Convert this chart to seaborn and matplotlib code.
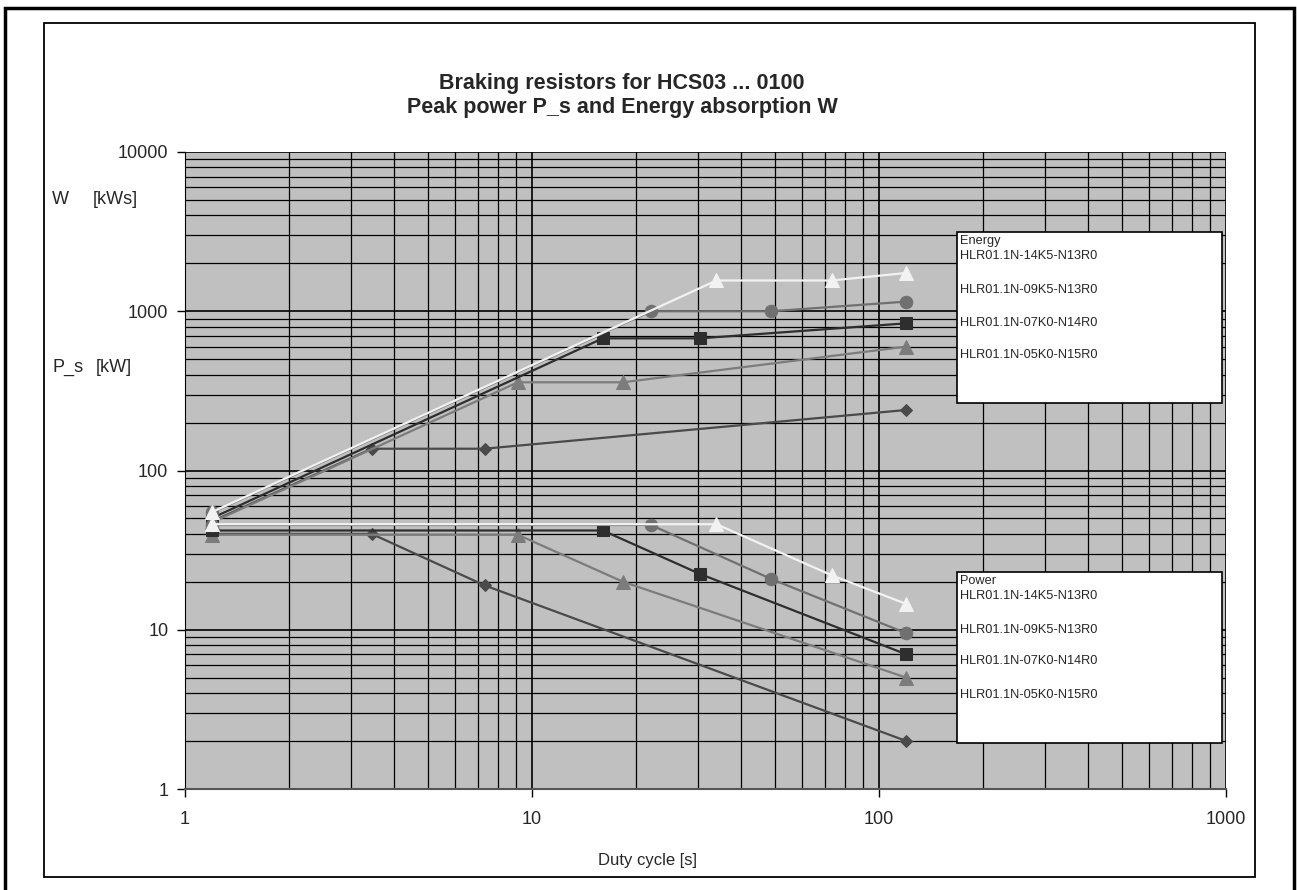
import matplotlib
matplotlib.use("Agg")
import matplotlib.pyplot as plt
import matplotlib.patches as mpatches
import matplotlib.ticker as mticker
import seaborn as sns
import pandas as pd

# ---------------- data ----------------
series_names = ["HLR01.1N-14K5-N13R0", "HLR01.1N-09K5-N13R0",
                "HLR01.1N-07K0-N14R0", "HLR01.1N-05K0-N15R0", "diamond"]
duty_14k5 = [1.2, 34, 73, 120]
duty_09k5 = [1.2, 22, 49, 120]
duty_07k0 = [1.2, 16, 30.5, 120]
duty_05k0 = [1.2, 9.1, 18.3, 120]
duty_dia = [1.2, 3.45, 7.3, 120]

energy_14k5 = [55, 1560, 1560, 1740]
energy_09k5 = [54.6, 1000, 1000, 1150]
energy_07k0 = [50.4, 676, 676, 840]
energy_05k0 = [47.4, 358, 358, 600]
energy_dia = [48, 137, 137, 240]

power_14k5 = [46, 46, 22, 14.5]
power_09k5 = [45.5, 45.5, 20.8, 9.5]
power_07k0 = [42, 42, 22.4, 7]
power_05k0 = [39.5, 39.5, 20, 5]
power_dia = [40, 40, 19, 2]

y_ticks = [1, 10, 100, 1000, 10000]
x_ticks = [1, 10, 100, 1000]
legend_labels = ["HLR01.1N-14K5-N13R0", "HLR01.1N-09K5-N13R0",
                 "HLR01.1N-07K0-N14R0", "HLR01.1N-05K0-N15R0"]

duties = [duty_dia, duty_05k0, duty_07k0, duty_09k5, duty_14k5]
energies = [energy_dia, energy_05k0, energy_07k0, energy_09k5, energy_14k5]
powers = [power_dia, power_05k0, power_07k0, power_09k5, power_14k5]
styles = [
    dict(color="#4A4A4A", marker="D", ms=6),
    dict(color="#7C7C7C", marker="^", ms=10),
    dict(color="#2E2E2E", marker="s", ms=9),
    dict(color="#707070", marker="o", ms=9),
    dict(color="#F2F2F2", marker="^", ms=10),
]

# ---------------- figure ----------------
sns.set_style("white")
plt.rcParams["font.family"] = ["Liberation Sans", "DejaVu Sans"]

W, H = 1297, 890
fig = plt.figure(figsize=(W / 100, H / 100), dpi=100)
fig.patch.set_facecolor("white")

def fx(px):
    return px / W

def fy(py):
    return 1 - py / H

# outer frames
fig.add_artist(mpatches.Rectangle((fx(5), fy(900)), fx(1294) - fx(5), fy(8) - fy(900),
                                  transform=fig.transFigure, fill=False,
                                  edgecolor="black", lw=2.5, zorder=0))
fig.add_artist(mpatches.Rectangle((fx(44), fy(877)), fx(1255) - fx(44), fy(23) - fy(877),
                                  transform=fig.transFigure, fill=False,
                                  edgecolor="black", lw=1.3, zorder=0))

ax = fig.add_axes([fx(185), fy(789), fx(1226) - fx(185), fy(152) - fy(789)])
ax.set_facecolor("#C0C0C0")

for d, e, p, st in zip(duties, energies, powers, styles):
    for vals in (e, p):
        df = pd.DataFrame({"duty": d, "val": vals})
        sns.lineplot(data=df, x="duty", y="val", ax=ax, color=st["color"],
                     marker=st["marker"], markersize=st["ms"],
                     markeredgecolor=st["color"], markerfacecolor=st["color"],
                     lw=1.6, zorder=3, legend=False, estimator=None)

ax.set_xscale("log")
ax.set_yscale("log")
ax.set_xlim(1, 1000)
ax.set_ylim(1, 10000)
ax.xaxis.set_major_locator(mticker.FixedLocator(x_ticks))
ax.yaxis.set_major_locator(mticker.FixedLocator(y_ticks))
ax.xaxis.set_major_formatter(mticker.FixedFormatter([str(v) for v in x_ticks]))
ax.yaxis.set_major_formatter(mticker.FixedFormatter([str(v) for v in y_ticks]))
ax.xaxis.set_minor_locator(mticker.LogLocator(base=10, subs=range(2, 10)))
ax.yaxis.set_minor_locator(mticker.LogLocator(base=10, subs=range(2, 10)))
ax.xaxis.set_minor_formatter(mticker.NullFormatter())
ax.yaxis.set_minor_formatter(mticker.NullFormatter())
ax.grid(which="major", color="black", lw=1.2, zorder=1)
ax.grid(which="minor", color="black", lw=0.9, zorder=1)
ax.set_axisbelow(True)
ax.tick_params(which="major", direction="out", length=6, width=1, color="black",
               labelsize=13, left=True, bottom=True, pad=6)
ax.tick_params(axis="x", which="major", pad=10)
ax.tick_params(which="minor", length=0)
for s in ["top", "right"]:
    ax.spines[s].set_visible(False)
ax.spines["left"].set_color("black")
ax.spines["bottom"].set_color("#555555")
ax.spines["bottom"].set_linewidth(1.5)
ax.set_xlabel("")
ax.set_ylabel("")
fig.text(fx(648), fy(861), "Duty cycle [s]", ha="center", va="center", fontsize=12)

# title
fig.text(fx(622), fy(84), "Braking resistors for HCS03 ... 0100", ha="center",
         va="center", fontsize=15.5, fontweight="bold")
fig.text(fx(622), fy(107), "Peak power P_s and Energy absorption W", ha="center",
         va="center", fontsize=15.5, fontweight="bold")

# y labels
fig.text(fx(52), fy(200), "W", fontsize=13, va="center")
fig.text(fx(93), fy(200), "[kWs]", fontsize=13, va="center")
fig.text(fx(52), fy(367), "P_s", fontsize=13, va="center")
fig.text(fx(96), fy(367), "[kW]", fontsize=13, va="center")

# legend text boxes
def text_box(top, bottom, header, ys):
    fig.add_artist(mpatches.Rectangle((fx(957), fy(bottom)), fx(1222) - fx(957),
                                      fy(top) - fy(bottom), transform=fig.transFigure,
                                      facecolor="white", edgecolor="black", lw=1.2,
                                      zorder=5))
    fig.text(fx(960), fy(ys[0]), header, fontsize=9.2, va="center", zorder=6)
    for lab, yy in zip(legend_labels, ys[1:]):
        fig.text(fx(960), fy(yy), lab, fontsize=9.2, va="center", zorder=6)

text_box(232, 403, "Energy", [241, 256, 290, 323, 355])
text_box(572, 743, "Power", [581, 596, 630, 661, 695])

fig.savefig("out.png", dpi=100)
